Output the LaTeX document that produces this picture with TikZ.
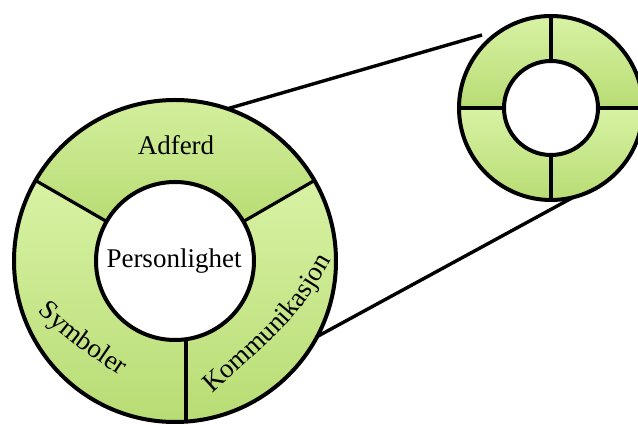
\documentclass[tikz,border=0pt]{standalone}
\usepackage{fontspec}
\setmainfont{Liberation Serif}
\usetikzlibrary{decorations.text}
\definecolor{ringtop}{RGB}{216,242,164}
\definecolor{ringbot}{RGB}{184,220,116}
\newcommand{\lblfont}{\fontsize{27}{32}\selectfont}
\begin{document}
\begin{tikzpicture}[x=1pt,y=1pt,
  ringline/.style={line width=4pt},
  divider/.style={line width=3.2pt},
  link/.style={line width=3.4pt},
  sector/.style={top color=ringtop,bottom color=ringbot},
  ringnode/.style={circle,draw,ringline,inner sep=0pt,outer sep=0pt},
  lbl/.style={font=\lblfont,text=black}]
\clip (0,0) rectangle (638,425);
\fill[white] (0,0) rectangle (638,425);

% ---- large ring: three sectors ----
\coordinate (bc) at (175,164);
% top sector
\path[sector] ([shift={(30:161)}]bc) arc[start angle=30,end angle=150,radius=161]
  -- ([shift={(150:79)}]bc) arc[start angle=150,end angle=30,radius=79] -- cycle;
% left sector
\path[sector] ([shift={(150:161)}]bc) arc[start angle=150,end angle=273.9,radius=161]
  -- ([shift={(278:79)}]bc) arc[start angle=278,end angle=150,radius=79] -- cycle;
% right sector
\path[sector] ([shift={(273.9:161)}]bc) arc[start angle=273.9,end angle=390,radius=161]
  -- ([shift={(30:79)}]bc) arc[start angle=390,end angle=278,radius=79] -- cycle;

\node[ringnode,minimum size=322pt] (bigring) at (bc) {};
\node[ringnode,fill=white,minimum size=158pt] (bigcore) at (bc) {};
\draw[divider] (bigcore.150) -- (bigring.150);
\draw[divider] (bigcore.30) -- (bigring.30);
\coordinate (divin) at (186,86);
\coordinate (divout) at (186,3);
\draw[divider] (divin) -- (divout);

% ---- small ring: four quadrants ----
\coordinate (sc) at (551,317);
\foreach \a in {0,90,180,270}{
  \path[sector] ([shift={(\a:92)}]sc) arc[start angle=\a,end angle=\a+90,radius=92]
    -- ([shift={(\a+90:47)}]sc) arc[start angle=\a+90,end angle=\a,radius=47] -- cycle;
}
\node[ringnode,minimum size=184pt] (smallring) at (sc) {};
\node[ringnode,fill=white,minimum size=94pt] (smallcore) at (sc) {};
\foreach \a in {0,90,180,270}{
  \draw[divider] (smallcore.\a) -- (smallring.\a);
}

% ---- connecting lines ----
\coordinate (linkend) at (482,390);
\draw[link] (bigring.71.6) -- (linkend);
\draw[link] (bigring.-28) -- (smallring.-76.5);

% ---- labels ----
\node[lbl] (adferd) at (176,280) {Adferd};
\node[lbl] (person) at (174,164) {Personlighet};
\path[decorate,decoration={text along path,text align=center,
  text={|\lblfont|Symboler}}]
  (33,117) .. controls (67.8,84.5) .. (125,46);
\path[decorate,decoration={text along path,text align=center,
  text={|\lblfont|Kommunikasjon}}]
  (208,27) .. controls (298,108.5) .. (334,170);
\end{tikzpicture}
\end{document}
